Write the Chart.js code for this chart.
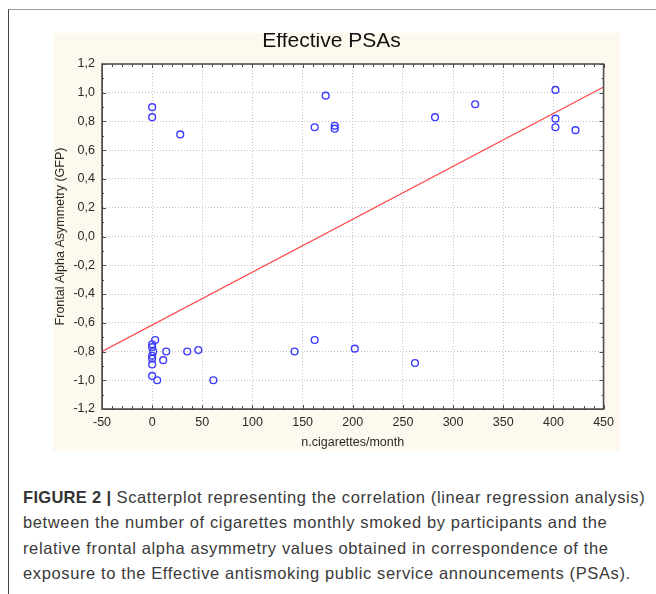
<!DOCTYPE html>
<html>
<head>
<meta charset="utf-8">
<script src="https://cdn.jsdelivr.net/npm/chart.js@4.4.0/dist/chart.umd.min.js"></script>
<style>
  html, body { margin: 0; padding: 0; background: #fff; }
  #page { position: relative; width: 656px; height: 594px; overflow: hidden; }
  #frame { position: absolute; left: 8px; top: 9px; width: 700px; height: 700px;
           border-top: 1px solid #9a9a9a; border-left: 1px solid #444; }
  #plot { position: absolute; left: 53px; top: 33px; width: 567px; height: 418px; background: #fdf9ee; }
  #caption { position: absolute; left: 23px; top: 485px; width: 640px;
             font-family: "Liberation Sans", Arial, sans-serif; font-size: 16.5px;
             letter-spacing: 0.62px; line-height: 25.3px; color: #3a3a3a; }
  #caption div { white-space: nowrap; }
  #caption b { color: #333; letter-spacing: 0.3px; }
</style>
</head>
<body>
<div id="page">
  <div id="frame"></div>
  <div id="plot"><canvas id="chart" width="567" height="418"></canvas></div>
  <div id="caption">
    <div><b>FIGURE 2 |</b> Scatterplot representing the correlation (linear regression analysis)</div>
    <div>between the number of cigarettes monthly smoked by participants and the</div>
    <div>relative frontal alpha asymmetry values obtained in correspondence of the</div>
    <div>exposure to the Effective antismoking public service announcements (PSAs).</div>
  </div>
</div>
<script>
/* data */
const cigX = [0, 0, 28, 173, 162, 182, 182, 282, 322, 402, 402, 402, 422,
              3, 0, 0, 1, 0, 0, 0, 0, 5, 14, 11, 35, 46, 61, 142, 162, 202, 262];
const fgaY = [0.90, 0.83, 0.71, 0.98, 0.76, 0.77, 0.75, 0.83, 0.92, 1.02, 0.82, 0.76, 0.74,
              -0.72, -0.75, -0.77, -0.80, -0.83, -0.85, -0.89, -0.97, -1.00, -0.80, -0.86, -0.80, -0.79, -1.00, -0.80, -0.72, -0.78, -0.88];

/* regression line end points */
const fitX = [-50, 450];
const fitY = [-0.80, 1.04];

const xTicks = [-50, 0, 50, 100, 150, 200, 250, 300, 350, 400, 450];
const yTicks = [-1.2, -1.0, -0.8, -0.6, -0.4, -0.2, 0.0, 0.2, 0.4, 0.6, 0.8, 1.0, 1.2];

const FONT = '"Liberation Sans", Arial, sans-serif';
const INK = '#2a2a2a';

/* white plot area, frame and inward ticks like the Statistica original */
const plotFrame = {
  id: 'plotFrame',
  beforeDraw(chart){
    const {ctx, chartArea: a} = chart;
    ctx.save();
    ctx.fillStyle = '#fff';
    ctx.fillRect(a.left, a.top, a.right - a.left, a.bottom - a.top);
    ctx.restore();
  },
  afterDraw(chart){
    const {ctx, chartArea: a, scales} = chart;
    ctx.save();
    ctx.strokeStyle = '#4a4a4a';
    ctx.lineWidth = 1;
    ctx.beginPath();
    for(let v = -50; v <= 450; v += 10){
      const px = Math.round(scales.x.getPixelForValue(v)) + 0.5;
      const len = v % 50 === 0 ? 4 : 3;
      ctx.moveTo(px, a.bottom); ctx.lineTo(px, a.bottom - len);
      ctx.moveTo(px, a.top); ctx.lineTo(px, a.top + len);
    }
    for(let i = -12; i <= 12; i++){
      const py = Math.round(scales.y.getPixelForValue(i / 10)) + 0.5;
      const len = i % 2 === 0 ? 4 : 2;
      ctx.moveTo(a.left, py); ctx.lineTo(a.left + len, py);
      ctx.moveTo(a.right, py); ctx.lineTo(a.right - len, py);
    }
    ctx.stroke();
    ctx.strokeStyle = '#505050';
    ctx.lineWidth = 1.6;
    ctx.strokeRect(a.left, a.top, a.right - a.left, a.bottom - a.top);
    ctx.restore();
  }
};

new Chart(document.getElementById('chart'), {
  type: 'scatter',
  data: {
    datasets: [
      {
        label: 'FAA',
        data: cigX.map((x, i) => ({x, y: fgaY[i]})),
        pointStyle: 'circle',
        pointRadius: 3.4,
        pointBorderWidth: 1.4,
        borderColor: '#3c3cff',
        backgroundColor: 'rgba(0,0,0,0)',
        order: 1
      },
      {
        type: 'line',
        label: 'fit',
        data: fitX.map((x, i) => ({x, y: fitY[i]})),
        borderColor: '#ff4646',
        borderWidth: 1.3,
        pointRadius: 0,
        fill: false,
        order: 2
      }
    ]
  },
  options: {
    responsive: false,
    animation: false,
    devicePixelRatio: 1,
    layout: { padding: { left: 0, right: 10, top: 0, bottom: 0 } },
    plugins: {
      legend: { display: false },
      tooltip: { enabled: false },
      title: {
        display: true,
        text: 'Effective PSAs',
        color: '#111',
        font: { family: FONT, size: 21, weight: 'normal', lineHeight: 0.8 },
        padding: { top: 0, bottom: 14.2 }
      }
    },
    scales: {
      x: {
        type: 'linear',
        min: -50, max: 450,
        afterBuildTicks: s => { s.ticks = xTicks.map(v => ({value: v})); },
        afterFit: s => { s.height = 42; },
        grid: { color: '#c4c4c4', lineWidth: 1, drawTicks: false },
        border: { display: true, color: '#505050', width: 1, dash: [1, 2] },
        ticks: { color: INK, padding: 6, font: { family: FONT, size: 12.5 }, maxRotation: 0 },
        title: { display: true, text: 'n.cigarettes/month', color: INK,
                 font: { family: FONT, size: 12.5 }, padding: { top: 0, bottom: 1 } }
      },
      y: {
        type: 'linear',
        min: -1.2, max: 1.2,
        afterBuildTicks: s => { s.ticks = yTicks.map(v => ({value: v})); },
        afterFit: s => { s.width = 49; },
        grid: { color: '#c4c4c4', lineWidth: 1, drawTicks: false },
        border: { display: true, color: '#505050', width: 1, dash: [1, 2] },
        ticks: { color: INK, padding: 7, font: { family: FONT, size: 12.5 },
                 callback: v => v.toFixed(1).replace('.', ',') },
        title: { display: true, text: 'Frontal Alpha Asymmetry (GFP)', color: INK,
                 font: { family: FONT, size: 12.5 }, padding: { top: 0, bottom: 0 } }
      }
    }
  },
  plugins: [plotFrame]
});
</script>
</body>
</html>
